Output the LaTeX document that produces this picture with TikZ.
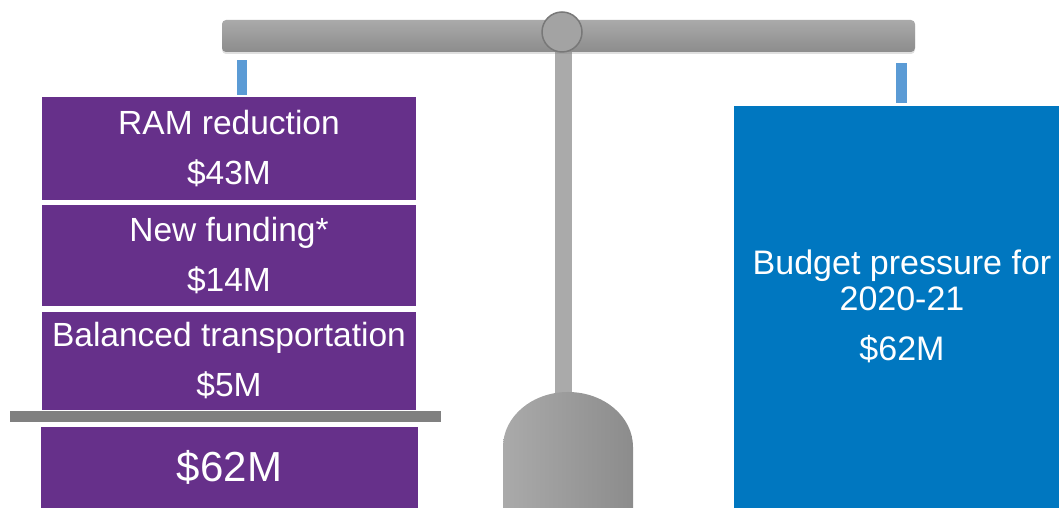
\documentclass[tikz,border=0pt]{standalone}
\usepackage{fontspec}
\setmainfont{Liberation Sans}
\usetikzlibrary{shadows}
\definecolor{purp}{RGB}{102,48,138}
\definecolor{bluebox}{RGB}{0,119,192}
\definecolor{hang}{RGB}{91,155,213}
\definecolor{gA}{RGB}{170,170,170}
\definecolor{gB}{RGB}{140,140,140}
\definecolor{gC}{RGB}{128,128,128}
\tikzset{
  purplebox/.style={fill=purp, draw=none, inner sep=0pt, minimum width=374pt, text=white, align=center, font=\fontsize{33.5}{50}\selectfont},
  hanger/.style={fill=hang, draw=none},
}
\begin{document}
\begin{tikzpicture}[x=1pt,y=1pt]
\useasboundingbox (0,0) rectangle (1059,508);
% stem
\fill[gA] (555,113) rectangle (572,470);
% weight
\shade[left color=gA, right color=gB] (503,0) -- (503,61) arc[start angle=180, end angle=0, x radius=65, y radius=55] -- (633,0) -- cycle;
% beam
\shade[top color=gA, bottom color=gB, rounded corners=4pt, drop shadow={opacity=0.25, shadow xshift=0pt, shadow yshift=-2pt}] (222,456) rectangle (915,488);
\node[circle, minimum size=40pt, inner sep=0pt, fill={rgb,255:red,163;green,163;blue,163}, draw={rgb,255:red,120;green,120;blue,120}, line width=1.5pt] (pivot) at (562,476) {};
% hangers
\fill[hanger] (237,413) rectangle (247,448);
\fill[hanger] (896,405) rectangle (907,445);
% left boxes
\node[purplebox, minimum height=103pt] (ram) at (229,359.5) {RAM reduction\\\$43M};
\node[purplebox, minimum height=101pt] (newf) at (229,252.5) {New funding*\\\$14M};
\node[purplebox, minimum height=98pt] (bal) at (229,147) {Balanced transportation\\\$5M};
\node[fill=gC, inner sep=0pt, minimum width=431pt, minimum height=11pt] (bar) at (225.5,91.5) {};
\node[fill=purp, inner sep=0pt, minimum width=377pt, minimum height=81pt, text=white, font=\fontsize{42}{48}\selectfont] (total) at (229.5,40.5) {\$62M};
% right box
\node[fill=bluebox, inner sep=0pt, minimum width=325pt, minimum height=402pt] (budget) at (896.5,201) {};
\node[text=white, align=center, font=\fontsize{34}{36}\selectfont, inner sep=0pt] (btext) at (902,202) {Budget pressure for\\2020-21\\[14pt]\$62M};
\end{tikzpicture}
\end{document}
